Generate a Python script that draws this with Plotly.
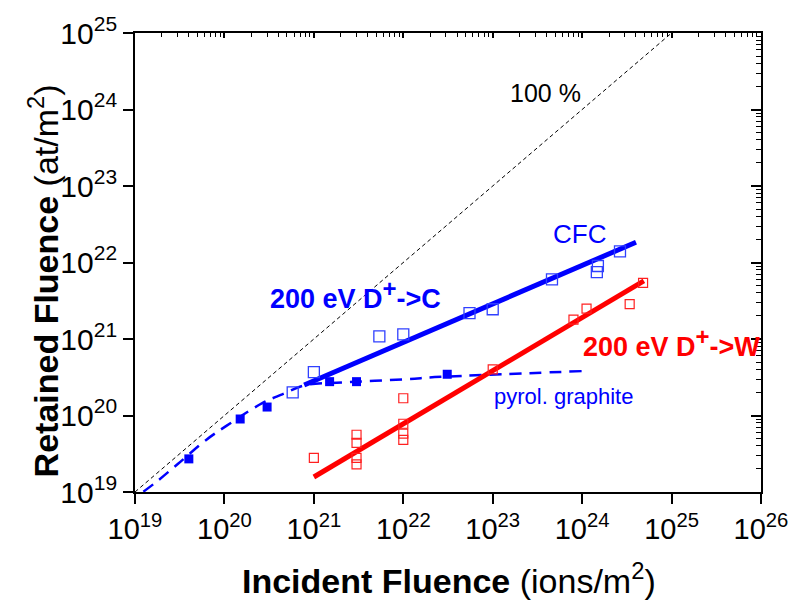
import numpy as np
import plotly.graph_objects as go

# ---------------- data ----------------
# CFC (open blue squares)
cfc_x = [5.8e20, 1.0e21, 5.4e21, 1.0e22, 5.5e22, 1.0e23, 4.6e23, 1.5e24, 1.46e24, 2.65e24]
cfc_y = [2.0e20, 3.7e20, 1.08e21, 1.15e21, 2.18e21, 2.45e21, 6.0e21, 9.0e21, 7.5e21, 1.4e22]
# CFC fit line
cfc_fit_x = [7.8e20, 4.0e24]
cfc_fit_y = [2.5e20, 1.84e22]

# pyrolytic graphite (filled blue squares)
pg_x = [4.0e19, 1.5e20, 3.0e20, 1.5e21, 3.0e21, 3.1e22]
pg_y = [2.71e19, 9.0e19, 1.29e20, 2.77e20, 2.77e20, 3.46e20]
# pyrolytic graphite trend (dashed)
pg_fit_x = [1.24e19, 1.74e19, 3.03e19, 6.25e19, 1.04e20, 2.65e20, 4.43e20, 8.05e20, 2.05e21, 1.34e22, 1.88e22, 1.03e24]
pg_fit_y = [1.01e19, 1.36e19, 2.34e19, 4.80e19, 7.26e19, 1.45e20, 1.89e20, 2.49e20, 2.70e20, 3.03e20, 3.13e20, 3.81e20]

# tungsten (open red squares)
w_x = [1e21, 3e21, 3e21, 3e21, 3e21, 1e22, 1e22, 1e22, 1e22, 1e23, 8e23, 1.12e24, 3.4e24, 4.8e24]
w_y = [2.8e19, 5.6e19, 4.4e19, 2.8e19, 2.3e19, 1.68e20, 7.8e19, 5.8e19, 4.8e19, 4.0e20, 1.79e21, 2.5e21, 2.85e21, 5.4e21]
# tungsten fit line
w_fit_x = [1.0e21, 4.9e24]
w_fit_y = [1.57e19, 5.75e21]

# 100 % reference line
ref_x = [1e19, 1e25]
ref_y = [1e19, 1e25]

# axis ticks
x_exps = [19, 20, 21, 22, 23, 24, 25, 26]
y_exps = [19, 20, 21, 22, 23, 24, 25]
x_ticktext = [f"10<sup>{e}</sup>" for e in x_exps]
y_ticktext = [f"10<sup>{e}</sup>" for e in y_exps]

FONT = "Liberation Sans, Arial, sans-serif"
BLUE = "#0000ff"
RED = "#ff0000"

fig = go.Figure()

fig.add_trace(go.Scatter(x=ref_x, y=ref_y, mode="lines",
                         line=dict(color="black", width=1, dash="4px,3px"),
                         hoverinfo="skip", showlegend=False))
fig.add_trace(go.Scatter(x=pg_fit_x, y=pg_fit_y, mode="lines", line_shape="spline",
                         line=dict(color=BLUE, width=2.5, dash="12px,8px"),
                         showlegend=False))
fig.add_trace(go.Scatter(x=cfc_fit_x, y=cfc_fit_y, mode="lines",
                         line=dict(color=BLUE, width=5), showlegend=False))
fig.add_trace(go.Scatter(x=w_fit_x, y=w_fit_y, mode="lines",
                         line=dict(color=RED, width=5), showlegend=False))
fig.add_trace(go.Scatter(x=cfc_x, y=cfc_y, mode="markers",
                         marker=dict(symbol="square-open", size=11,
                                     color="#3040ff", line=dict(width=1.3, color="#3040ff")),
                         showlegend=False))
fig.add_trace(go.Scatter(x=pg_x, y=pg_y, mode="markers",
                         marker=dict(symbol="square", size=9, color=BLUE,
                                     line=dict(width=0)),
                         showlegend=False))
fig.add_trace(go.Scatter(x=w_x, y=w_y, mode="markers",
                         marker=dict(symbol="square-open", size=9,
                                     color="#ff2020", line=dict(width=1.2, color="#ff2020")),
                         showlegend=False))
# invisible trace for the mirrored top/right axes
fig.add_trace(go.Scatter(x=[1e20], y=[1e20], xaxis="x2", yaxis="y2", mode="markers",
                         marker=dict(opacity=0), hoverinfo="skip", showlegend=False))

x_minor = [m * 10.0 ** e for e in range(19, 26) for m in range(2, 10)]
y_minor = [m * 10.0 ** e for e in range(19, 25) for m in range(2, 10)]

fig.update_layout(
    width=800, height=605,
    margin=dict(l=135, r=34, t=25, b=113),
    paper_bgcolor="white", plot_bgcolor="white",
    font=dict(family=FONT, color="black"),
    xaxis=dict(type="log", range=[19, 26], tickmode="array",
               tickvals=[10.0 ** e for e in x_exps], ticktext=x_ticktext,
               ticks="outside", ticklen=10, tickwidth=1.5, tickcolor="black",
               showline=True, linewidth=1.8, linecolor="black",
               showgrid=False, zeroline=False,
               tickfont=dict(size=29, family=FONT)),
    yaxis=dict(type="log", range=[19, 25], tickmode="array",
               tickvals=[10.0 ** e for e in y_exps], ticktext=y_ticktext,
               ticks="outside", ticklen=10, tickwidth=1.5, tickcolor="black",
               showline=True, linewidth=1.8, linecolor="black",
               showgrid=False, zeroline=False,
               tickfont=dict(size=30, family=FONT)),
    xaxis2=dict(type="log", range=[19, 26], overlaying="x", side="top", anchor="y2",
                tickmode="array", tickvals=[10.0 ** e for e in x_exps],
                ticks="inside", ticklen=5, tickwidth=1.5, tickcolor="black",
                showticklabels=False, showline=True, linewidth=1.8, linecolor="black",
                showgrid=False, zeroline=False,
                minor=dict(tickmode="array", tickvals=x_minor, ticks="inside",
                           ticklen=4, tickwidth=1.2, tickcolor="black", showgrid=False)),
    yaxis2=dict(type="log", range=[19, 25], overlaying="y", side="right", anchor="x2",
                tickmode="array", tickvals=[10.0 ** e for e in y_exps],
                ticks="inside", ticklen=10, tickwidth=1.5, tickcolor="black",
                showticklabels=False, showline=True, linewidth=1.8, linecolor="black",
                showgrid=False, zeroline=False,
                minor=dict(tickmode="array", tickvals=y_minor, ticks="inside",
                           ticklen=5, tickwidth=1.2, tickcolor="black", showgrid=False)),
)

annotations = [
    # axis titles
    dict(text="<b>Incident Fluence</b> (ions/m<sup>2</sup>)", xref="paper", yref="paper",
         x=0.5016, y=-0.1884, xanchor="center", yanchor="middle", showarrow=False,
         font=dict(size=34, family=FONT, color="black")),
    dict(text="<b>Retained Fluence</b> (at/m<sup>2</sup>)", xref="paper", yref="paper",
         x=-0.1458, y=0.4604, xanchor="center", yanchor="middle", textangle=-90,
         showarrow=False, font=dict(size=34, family=FONT, color="black")),
    # labels in the plot
    dict(text="100 %", x=23.595, y=24.218, xanchor="center", yanchor="middle",
         showarrow=False, font=dict(size=25, family=FONT, color="black")),
    dict(text="CFC", x=23.972, y=22.368, xanchor="center", yanchor="middle",
         showarrow=False, font=dict(size=26, family=FONT, color=BLUE)),
    dict(text="<b>200 eV D<sup><span style='font-size:24px'>+</span></sup>->C</b>",
         x=21.464, y=21.58, xanchor="center", yanchor="middle", showarrow=False,
         font=dict(size=27, family=FONT, color=BLUE)),
    dict(text="<b>200 eV D<sup><span style='font-size:24px'>+</span></sup>->W</b>",
         x=25.0, y=20.95, xanchor="center", yanchor="middle", showarrow=False,
         font=dict(size=27, family=FONT, color=RED)),
    dict(text="pyrol. graphite", x=23.795, y=20.247, xanchor="center", yanchor="middle",
         showarrow=False, font=dict(size=22, family=FONT, color=BLUE)),
]
fig.update_layout(annotations=annotations)

fig.write_html("out.html")
